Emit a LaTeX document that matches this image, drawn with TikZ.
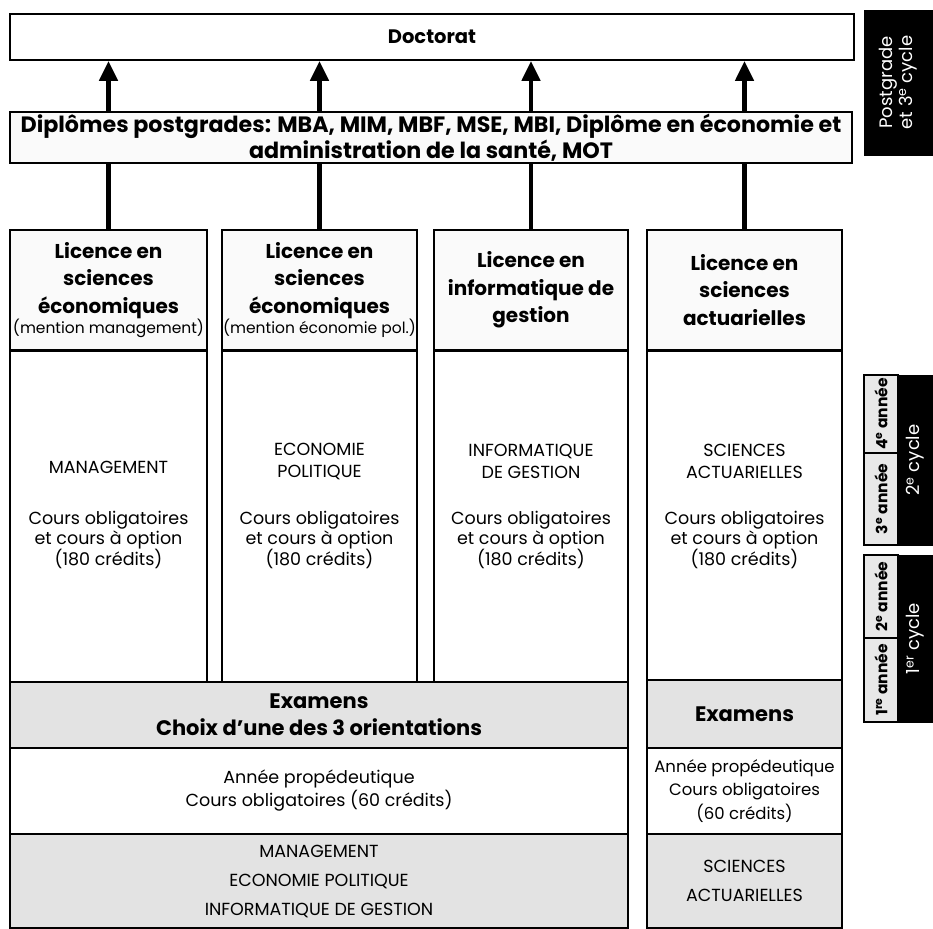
\documentclass[tikz,border=0pt]{standalone}
\usepackage{fontspec}
\setmainfont{Poppins}
\usetikzlibrary{arrows.meta}
\usetikzlibrary{calc}

\tikzset{
  box/.style={draw, line width=1.8pt, rectangle, inner sep=0pt, align=center},
  hdr/.style={box, fill=gray!4, font=\fontsize{20}{27.5}\selectfont\bfseries},
  band/.style={box, fill=gray!22, font=\fontsize{21}{27}\selectfont\bfseries},
  plain/.style={align=center, inner sep=0pt, font=\fontsize{17.5}{20}\selectfont},
  link/.style={line width=4.5pt},
  uparrow/.style={line width=4.5pt, -{Triangle[width=18pt,length=20pt]}},
  yearbox/.style={draw, line width=1.5pt, fill=gray!18, rotate=90, inner sep=0pt,
    font=\fontsize{15.5}{17}\selectfont\bfseries},
  cyclebox/.style={draw, fill=black, text=white, inner sep=0pt,
    font=\fontsize{18}{20}\selectfont, align=center}
}

\begin{document}
\begin{tikzpicture}[x=1pt, y=-1pt]
        \useasboundingbox (0,0) rectangle (933,928);

        % Doctorat and postgrade
        \node[box, minimum width=844, minimum height=46, font=\fontsize{19.5}{22}\selectfont\bfseries] (doc) at (432,37) {Doctorat};
        \node[box, fill=gray!4, minimum width=842, minimum height=51, font=\fontsize{22.2}{23}\selectfont\bfseries] (dipl) at (431,137.5)
          {Diplômes postgrades: MBA, MIM, MBF, MSE, MBI, Diplôme en économie et\\administration de la santé, MOT};

        % Licences
        \node[hdr, minimum width=197, minimum height=120] (lic1) at (108.5,290)
          {Licence en\\sciences\\économiques\\[-7pt]{\fontsize{15.5}{17}\selectfont\mdseries (mention management)}};
        \node[hdr, minimum width=195, minimum height=120] (lic2) at (319.5,290)
          {Licence en\\sciences\\économiques\\[-7pt]{\fontsize{15.5}{17}\selectfont\mdseries (mention économie pol.)}};
        \node[hdr, minimum width=194, minimum height=120] (lic3) at (531,290) {Licence en\\informatique de\\gestion};
        \node[hdr, minimum width=195, minimum height=120] (lic4) at (744.5,290) {Licence en\\sciences\\actuarielles};

        % Orientations
        \node[box, minimum width=197, minimum height=332] (crs1) at (108.5,516) {};
        \node[box, minimum width=195, minimum height=332] (crs2) at (319.5,516) {};
        \node[box, minimum width=194, minimum height=332] (crs3) at (531,516) {};
        \node[box, minimum width=195, minimum height=330] (crs4) at (744.5,515) {};
        \draw[line width=3pt] (lic1.south west) -- (lic1.south east);
        \draw[line width=3pt] (lic2.south west) -- (lic2.south east);
        \draw[line width=3pt] (lic3.south west) -- (lic3.south east);
        \draw[line width=3pt] (lic4.south west) -- (lic4.south east);
        \node[plain] (tit1) at (108.5,467) {MANAGEMENT};
        \node[plain] (tit2) at (319.5,461) {ECONOMIE\\[2pt]POLITIQUE};
        \node[plain] (tit3) at (531,461) {INFORMATIQUE\\[2pt]DE GESTION};
        \node[plain] (tit4) at (744.5,461) {SCIENCES\\[2pt]ACTUARIELLES};
        \node[plain] (opt1) at (108.5,540) {Cours obligatoires\\et cours à option\\(180 crédits)};
        \node[plain] (opt2) at (319.5,540) {Cours obligatoires\\et cours à option\\(180 crédits)};
        \node[plain] (opt3) at (531,540) {Cours obligatoires\\et cours à option\\(180 crédits)};
        \node[plain] (opt4) at (744.5,540) {Cours obligatoires\\et cours à option\\(180 crédits)};

        % Premiere annee
        \node[band, minimum width=618, minimum height=66] (exa) at (319,715) {Examens\\Choix d’une des 3 orientations};
        \node[band, minimum width=195, minimum height=68] (exb) at (744.5,714) {Examens};
        \node[box, minimum width=618, minimum height=86, font=\fontsize{17.5}{23}\selectfont] (pro) at (319,791)
          {Année propédeutique\\Cours obligatoires (60 crédits)};
        \node[box, minimum width=195, minimum height=86, font=\fontsize{16.5}{23.5}\selectfont] (prb) at (744.5,791)
          {Année propédeutique\\Cours obligatoires\\(60 crédits)};
        \node[box, fill=gray!22, minimum width=618, minimum height=94, font=\fontsize{17.5}{29}\selectfont] (ent) at (319,881)
          {MANAGEMENT\\ECONOMIE POLITIQUE\\INFORMATIQUE DE GESTION};
        \node[box, fill=gray!22, minimum width=195, minimum height=94, font=\fontsize{17.5}{29}\selectfont] (enb) at (744.5,881)
          {SCIENCES\\ACTUARIELLES};

        % Connectors
        \foreach \c in {1,...,4} {
          \draw[link] (lic\c.north) -- (lic\c.north |- dipl.south);
          \draw[uparrow] (lic\c.north |- dipl.north) -- (lic\c.north |- doc.south);
        }

        % Cycles
        \node[cyclebox, minimum width=69, minimum height=145] (cyc3) at (898.5,82.5)
          {\rotatebox{90}{\begin{tabular}{@{}c@{}}Postgrade\\[0pt]et 3\textsuperscript{e} cycle\end{tabular}}};
        \node[cyclebox, minimum width=35, minimum height=170] (cyc2) at (915.5,460)
          {\rotatebox{90}{2\textsuperscript{e} cycle}};
        \node[yearbox, minimum width=78, minimum height=34] (an4) at (881,414) {4\textsuperscript{e} année};
        \node[yearbox, minimum width=92, minimum height=34] (an3) at (881,499) {3\textsuperscript{e} année};
        \node[cyclebox, minimum width=35, minimum height=167] (cyc1) at (915.5,638.5)
          {\rotatebox{90}{1\textsuperscript{er} cycle}};
        \node[yearbox, minimum width=83, minimum height=34] (an2) at (881,596.5) {2\textsuperscript{e} année};
        \node[yearbox, minimum width=84, minimum height=34] (an1) at (881,680) {1\textsuperscript{re} année};
\end{tikzpicture}
\end{document}
